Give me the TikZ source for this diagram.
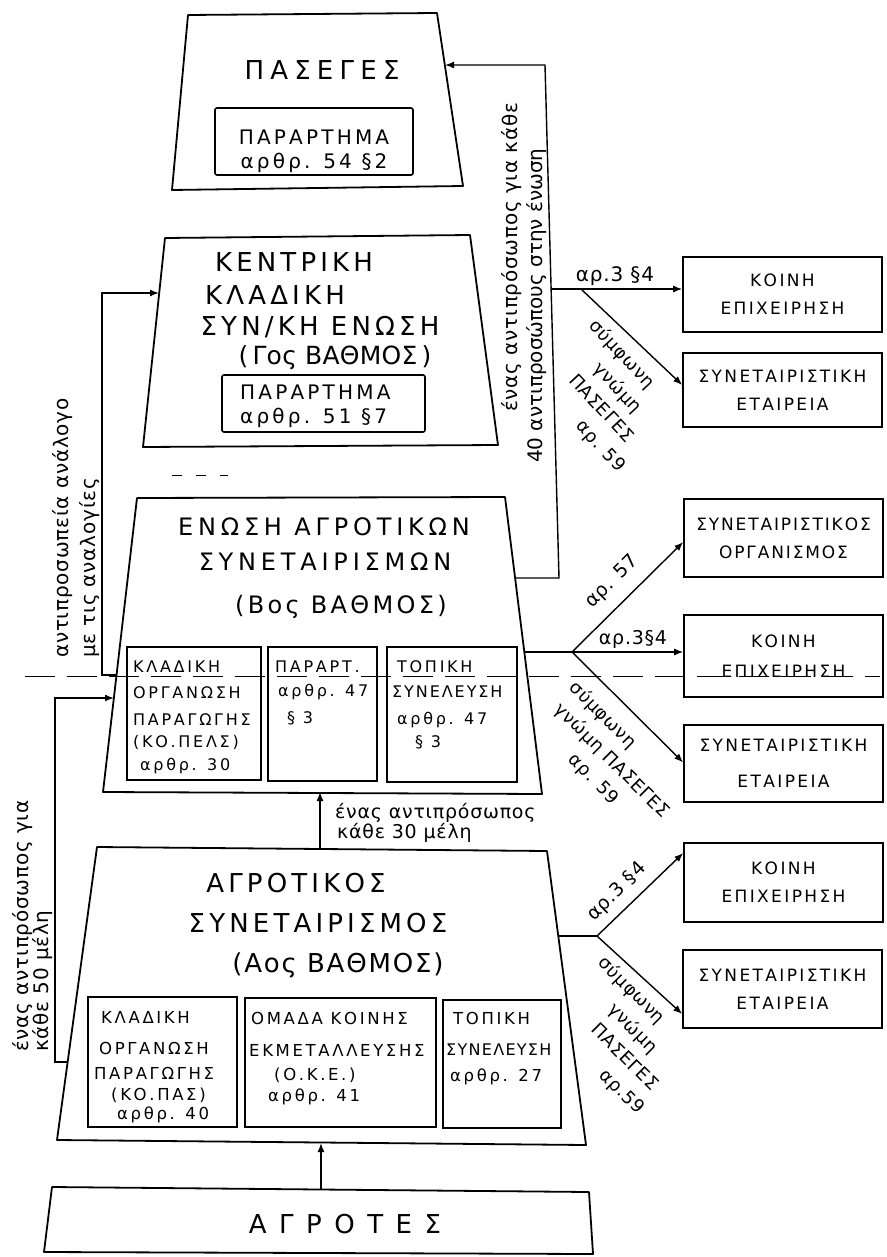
\documentclass[tikz,border=0pt]{standalone}
\usepackage{fontspec}
\setmainfont{DejaVu Sans}
\newfontfamily\fTitle[LetterSpace=16]{DejaVu Sans}
\newfontfamily\fTitleB[LetterSpace=20]{DejaVu Sans}
\newfontfamily\fBox[LetterSpace=16]{DejaVu Sans}
\newfontfamily\fSubA[LetterSpace=17]{DejaVu Sans}
\newfontfamily\fSub[LetterSpace=16]{DejaVu Sans}
\newfontfamily\fRight[LetterSpace=14]{DejaVu Sans}
\newfontfamily\fWide[LetterSpace=48]{DejaVu Sans}
\newfontfamily\fHand[LetterSpace=4]{DejaVu Sans}
\usetikzlibrary{arrows.meta}
\begin{document}
\begin{tikzpicture}[x=1pt,y=-1pt,
  trap/.style={line width=1.8pt, line join=round},
  ibox/.style={draw, line width=1.6pt, rounded corners=2pt, inner sep=0pt},
  sbox/.style={draw, line width=1.6pt, inner sep=0pt},
  rbox/.style={draw, line width=1.6pt, inner sep=0pt, minimum width=199pt, align=center,
     font=\fRight\fontsize{17}{28}\selectfont},
  conn/.style={line width=1.4pt},
  arr/.style={conn, -{Latex[length=9pt,width=7pt]}},
  ttl/.style={font=\fTitle\fontsize{26}{28}\selectfont, inner sep=0pt},
  ttlb/.style={font=\fTitleB\fontsize{24}{26}\selectfont, inner sep=0pt},
  itxt/.style={font=\fBox\fontsize{20}{22}\selectfont, inner sep=0pt},
  subA/.style={font=\fSubA\fontsize{16}{18}\selectfont, inner sep=0pt, anchor=west},
  subB/.style={font=\fSub\fontsize{16.5}{18}\selectfont, inner sep=0pt, anchor=west},
  hand/.style={font=\fHand\fontsize{20}{22}\selectfont, inner sep=0pt},
  handm/.style={font=\fHand\fontsize{19}{20}\selectfont, inner sep=0pt},
  stack/.style={font=\fHand\fontsize{18}{26}\selectfont, inner sep=0pt, align=center},
  dashline/.style={line width=1pt, dash pattern=on 30pt off 12pt}
]
\fill[white] (0,0) rectangle (886,1257);
\useasboundingbox (0,0) rectangle (886,1257);

% ---------- level shapes ----------
\draw[trap] (188,15) -- (437,13) -- (463,186) -- (172,190) -- cycle;
\draw[trap] (165,238) -- (470,235) -- (498,445) -- (143,447) -- cycle;
\draw[trap] (137,498) -- (505,497) -- (542,794) -- (103,792) -- cycle;
\draw[trap] (97,847) -- (547,851) -- (586,1145) -- (57,1140) -- cycle;
\draw[trap] (52,1187) -- (589,1192) -- (593,1254) -- (44,1252) -- cycle;

% ---------- PASEGES ----------
\node[ttl, font=\fTitle\fontsize{26}{28}\selectfont\addfontfeature{LetterSpace=24}] (tPas) at (322,70) {ΠΑΣΕΓΕΣ};
\node[ibox, minimum width=198pt, minimum height=67pt] (pasBox) at (314,141.5) {};
\node[itxt] (pas1) at (314,137) {ΠΑΡΑΡΤΗΜΑ};
\node[itxt] (pas2) at (314,163) {αρθρ. 54 §2};

% ---------- KENTRIKI ----------
\node[ttl] (k1) at (294,262) {ΚΕΝΤΡΙΚΗ};
\node[ttl] (k2) at (275,295) {ΚΛΑΔΙΚΗ};
\node[ttl] (k3) at (320,327) {ΣΥΝ/ΚΗ ΕΝΩΣΗ};
\node[ttl, font=\fTitle\fontsize{25}{28}\selectfont\addfontfeature{LetterSpace=1}] (k4) at (335,358) {(\,Γος ΒΑΘΜΟΣ\,)};
\node[ibox, minimum width=203pt, minimum height=57pt] (kenBox) at (323.5,403.5) {};
\node[itxt, anchor=west] (ken1) at (240,392) {ΠΑΡΑΡΤΗΜΑ};
\node[itxt, anchor=west] (ken2) at (240,418) {αρθρ. 51 §7};

% ---------- ENOSI ----------
\node[ttlb] (e1) at (324,527) {ΕΝΩΣΗ ΑΓΡΟΤΙΚΩΝ};
\node[ttlb] (e2) at (325,562) {ΣΥΝΕΤΑΙΡΙΣΜΩΝ};
\node[ttlb, font=\fTitleB\fontsize{24}{26}\selectfont\addfontfeature{LetterSpace=14}] (e3) at (341,607) {(Βος ΒΑΘΜΟΣ)};
\node[sbox, minimum width=134pt, minimum height=133pt] (eb1) at (194,713.5) {};
\node[sbox, minimum width=109pt, minimum height=134pt] (eb2) at (322.5,714) {};
\node[sbox, minimum width=130pt, minimum height=135pt] (eb3) at (452,714.5) {};
\node[subA] (e11) at (133,667) {ΚΛΑΔΙΚΗ};
\node[subA] (e12) at (133,693) {ΟΡΓΑΝΩΣΗ};
\node[subA] (e13) at (133,720) {ΠΑΡΑΓΩΓΗΣ};
\node[subA] (e14) at (133,742) {(ΚΟ.ΠΕΛΣ)};
\node[subA] (e15) at (140,766) {αρθρ. 30};
\node[subA] (e21) at (275,667) {ΠΑΡΑΡΤ.};
\node[subA] (e22) at (278,692) {αρθρ. 47};
\node[subA] (e23) at (287,718) {§ 3};
\node[subA] (e31) at (397,667) {ΤΟΠΙΚΗ};
\node[subA, font=\fSubA\fontsize{16}{18}\selectfont\addfontfeature{LetterSpace=12}] (e32) at (392,692) {ΣΥΝΕΛΕΥΣΗ};
\node[subA] (e33) at (397,720) {αρθρ. 47};
\node[subA] (e34) at (415,742) {§ 3};

% ---------- AGROTIKOS ----------
\node[ttl] (a1) at (296,883) {ΑΓΡΟΤΙΚΟΣ};
\node[ttl] (a2) at (318,923) {ΣΥΝΕΤΑΙΡΙΣΜΟΣ};
\node[ttl, font=\fTitle\fontsize{26}{28}\selectfont\addfontfeature{LetterSpace=7}] (a3) at (338,965) {(Αος ΒΑΘΜΟΣ)};
\node[sbox, minimum width=149pt, minimum height=130pt] (ab1) at (162.5,1062) {};
\node[sbox, minimum width=191pt, minimum height=129pt] (ab2) at (340.5,1062.5) {};
\node[sbox, minimum width=118pt, minimum height=128pt] (ab3) at (502,1064) {};
\node[subB] (a11) at (101,1017) {ΚΛΑΔΙΚΗ};
\node[subB] (a12) at (99,1048) {ΟΡΓΑΝΩΣΗ};
\node[subB] (a13) at (94,1073) {ΠΑΡΑΓΩΓΗΣ};
\node[subB] (a14) at (111,1095) {(ΚΟ.ΠΑΣ)};
\node[subB] (a15) at (117,1115) {αρθρ. 40};
\node[subB] (a21) at (251,1018) {ΟΜΑΔΑ ΚΟΙΝΗΣ};
\node[subB] (a22) at (249,1050) {ΕΚΜΕΤΑΛΛΕΥΣΗΣ};
\node[subB] (a23) at (274,1075) {(Ο.Κ.Ε.)};
\node[subB] (a24) at (268,1097) {αρθρ. 41};
\node[subB] (a31) at (453,1018) {ΤΟΠΙΚΗ};
\node[subB, font=\fSub\fontsize{16}{18}\selectfont\addfontfeature{LetterSpace=8}] (a32) at (446,1050) {ΣΥΝΕΛΕΥΣΗ};
\node[subB] (a33) at (450,1077) {αρθρ. 27};

% ---------- AGROTES ----------
\node[font=\fWide\fontsize{26}{28}\selectfont, inner sep=0pt] (far) at (345,1224) {ΑΓΡΟΤΕΣ};

% ---------- right boxes ----------
\node[rbox, minimum height=75pt] (r1) at (782.5,294.5) {ΚΟΙΝΗ\\ΕΠΙΧΕΙΡΗΣΗ};
\node[rbox, minimum height=74pt] (r2) at (782.5,390) {ΣΥΝΕΤΑΙΡΙΣΤΙΚΗ\\ΕΤΑΙΡΕΙΑ};
\node[rbox, minimum height=78pt, font=\fRight\fontsize{17}{28}\selectfont\addfontfeature{LetterSpace=11}] (r3) at (783.5,538) {ΣΥΝΕΤΑΙΡΙΣΤΙΚΟΣ\\ΟΡΓΑΝΙΣΜΟΣ};
\node[rbox, minimum height=82pt] (r4) at (783.5,656) {ΚΟΙΝΗ\\[2pt]ΕΠΙΧΕΙΡΗΣΗ};
\node[rbox, minimum height=77pt] (r5) at (783.5,763.5) {ΣΥΝΕΤΑΙΡΙΣΤΙΚΗ\\[8pt]ΕΤΑΙΡΕΙΑ};
\node[rbox, minimum height=79pt] (r6) at (783.5,882.5) {ΚΟΙΝΗ\\ΕΠΙΧΕΙΡΗΣΗ};
\node[rbox, minimum height=78pt] (r7) at (782.5,989) {ΣΥΝΕΤΑΙΡΙΣΤΙΚΗ\\ΕΤΑΙΡΕΙΑ};

% ---------- connector points ----------
\coordinate (pasR) at (445,65);
\coordinate (vTop) at (545,65);
\coordinate (vBot) at (559,578);
\coordinate (enR) at (515,578);
\coordinate (kb0) at (551,289);
\coordinate (kb1) at (581,289);
\coordinate (ebA) at (524,652);
\coordinate (ebB) at (572,652);
\coordinate (abA) at (558,936);
\coordinate (abB) at (597,936);
\coordinate (enL1) at (116,675);
\coordinate (lv1b) at (102,675);
\coordinate (lv1t) at (102,293);
\coordinate (kenL) at (159,293);
\coordinate (agL) at (67,1062);
\coordinate (lv2b) at (55,1062);
\coordinate (lv2t) at (55,698);
\coordinate (enL2) at (114,698);
\coordinate (agT) at (320,849);
\coordinate (enB) at (320,792);
\coordinate (faT) at (321,1189);
\coordinate (agB) at (321,1143);

% ---------- connectors ----------
\draw[arr] (enR) -- (vBot) -- (vTop) -- (pasR);
\draw[arr] (kb0) -- (kb0 -| r1.west);
\draw[arr] (kb1) -- ([yshift=5pt]r2.west);
\draw[conn] (ebA) -- (ebB);
\draw[arr] (ebB) -- (ebB -| r4.west);
\draw[arr] (ebB) -- ([yshift=-4pt]r3.west);
\draw[arr] (ebB) -- ([yshift=1pt]r5.west);
\draw[conn] (abA) -- (abB);
\draw[arr] (abB) -- ([yshift=29.5pt]r6.west);
\draw[arr] (abB) -- ([yshift=-25pt]r7.west);
\draw[arr] (enL1) -- (lv1b) -- (lv1t) -- (kenL);
\draw[arr] (agL) -- (lv2b) -- (lv2t) -- (enL2);
\draw[arr] (agT) -- (enB);
\draw[arr] (faT) -- (agB);

% ---------- dashed guide lines ----------
\coordinate (dl0) at (25,676);
\coordinate (dl1) at (880,676);
\draw[dashline] (dl0) -- (dl1);
\coordinate (dm0) at (172,475);
\coordinate (dm1) at (228,475);
\draw[line width=1pt, dash pattern=on 10pt off 14pt] (dm0) -- (dm1);

% ---------- labels ----------
\node[hand, rotate=90, anchor=west] (lR1) at (512,412) {ένας αντιπρόσωπος για κάθε};
\node[hand, rotate=90, anchor=west, font=\fHand\fontsize{20}{22}\selectfont\addfontfeature{LetterSpace=0}] (lR2) at (537,463) {40 αντιπροσώπους στην ένωση};
\node[hand, rotate=90, anchor=west] (lL1) at (63,658) {αντιπροσωπεία ανάλογο};
\node[hand, rotate=90, anchor=west] (lL2) at (90,658) {με τις αναλογίες};
\node[hand, rotate=90, anchor=west] (lB1) at (23,1052) {ένας αντιπρόσωπος για};
\node[hand, rotate=90, anchor=west] (lB2) at (43,1052) {κάθε 50 μέλη};
\node[handm, anchor=west] (lC1) at (335,813) {ένας αντιπρόσωπος};
\node[handm, anchor=west] (lC2) at (337,833) {κάθε 30 μέλη};

\node[hand] (o1) at (615,276) {αρ.3 §4};
\node[handm] (o2) at (633,639) {αρ.3§4};
\node[handm, rotate=45] (o3) at (617,892) {αρ.3 §4};
\node[handm, rotate=45] (o4) at (612,582) {αρ. 57};

\node[stack, rotate=-47] (s1) at (608,397)
  {σύμφωνη\hspace*{43pt}\\γνώμη\hspace*{27pt}\\\hspace*{8pt}ΠΑΣΕΓΕΣ\\\hspace*{62pt}αρ. 59};
\node[stack, rotate=-45] (s2) at (603,752)
  {σύμφωνη\hspace*{52pt}\\\hspace*{25pt}γνώμη ΠΑΣΕΓΕΣ\\\hspace*{25pt}αρ. 59};
\node[stack, rotate=-45] (s3) at (623.5,1038)
  {σύμφωνη\hspace*{56pt}\\γνώμη\hspace*{46pt}\\\hspace*{29pt}ΠΑΣΕΓΕΣ\\\hspace*{74pt}αρ.59};
\end{tikzpicture}
\end{document}
